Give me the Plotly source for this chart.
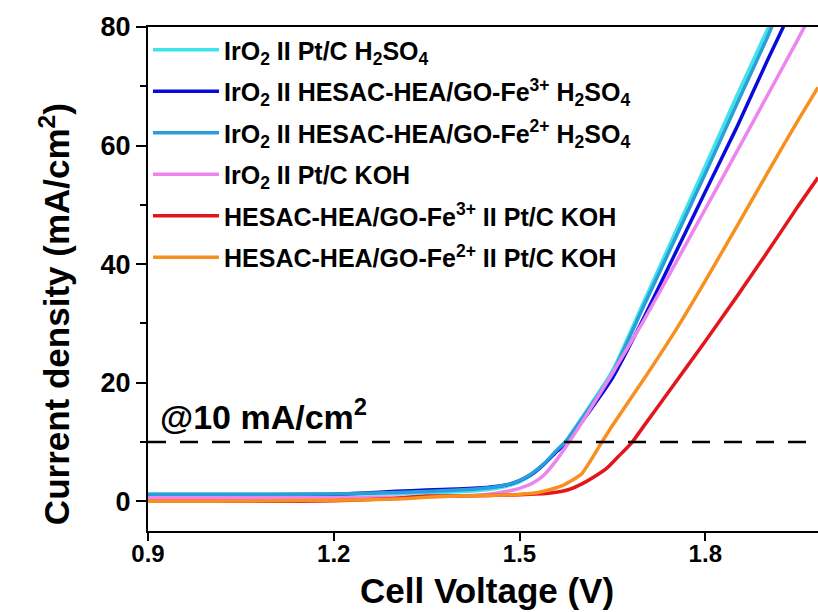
import plotly.graph_objects as go

# ---- data ----
names = [
    "IrO<sub>2</sub> II Pt/C H<sub>2</sub>SO<sub>4</sub>",
    "IrO<sub>2</sub> II HESAC-HEA/GO-Fe<sup>3+</sup> H<sub>2</sub>SO<sub>4</sub>",
    "IrO<sub>2</sub> II HESAC-HEA/GO-Fe<sup>2+</sup> H<sub>2</sub>SO<sub>4</sub>",
    "IrO<sub>2</sub> II Pt/C KOH",
    "HESAC-HEA/GO-Fe<sup>3+</sup> II Pt/C KOH",
    "HESAC-HEA/GO-Fe<sup>2+</sup> II Pt/C KOH",
]
colors = ["#3FE3EA", "#0A0ADC", "#2A9ED8", "#EE84EE", "#E3161C", "#F7901E"]

v_ptc_h2so4 = [0.90, 1.00, 1.10, 1.20, 1.30, 1.40, 1.45, 1.48, 1.50, 1.52, 1.54, 1.56, 1.575, 1.60, 1.65, 1.70, 1.75, 1.80, 1.85, 1.90, 1.91]
j_ptc_h2so4 = [1.2, 1.2, 1.2, 1.2, 1.3, 1.6, 2.0, 2.6, 3.3, 4.5, 6.3, 8.6, 10.2, 14.0, 22.0, 33.5, 45.0, 56.5, 68.2, 79.5, 82.0]

v_fe3_h2so4 = [0.90, 1.00, 1.10, 1.20, 1.25, 1.30, 1.35, 1.40, 1.45, 1.48, 1.50, 1.52, 1.54, 1.56, 1.577, 1.60, 1.65, 1.70, 1.75, 1.80, 1.85, 1.90, 1.935]
j_fe3_h2so4 = [1.1, 1.1, 1.1, 1.2, 1.4, 1.7, 1.9, 2.1, 2.4, 2.8, 3.5, 4.6, 6.3, 8.4, 10.0, 13.3, 20.8, 30.8, 41.5, 52.2, 62.9, 74.3, 82.0]

v_fe2_h2so4 = [0.90, 1.00, 1.10, 1.20, 1.30, 1.40, 1.45, 1.48, 1.50, 1.52, 1.54, 1.56, 1.575, 1.60, 1.65, 1.70, 1.75, 1.80, 1.85, 1.90, 1.915]
j_fe2_h2so4 = [1.2, 1.2, 1.2, 1.25, 1.5, 1.9, 2.3, 2.8, 3.5, 4.7, 6.4, 8.6, 10.1, 13.8, 21.6, 32.8, 44.0, 55.3, 66.8, 78.2, 82.0]

v_ptc_koh = [0.90, 1.00, 1.10, 1.20, 1.30, 1.40, 1.45, 1.48, 1.50, 1.52, 1.54, 1.56, 1.58, 1.60, 1.65, 1.70, 1.75, 1.80, 1.85, 1.90, 1.95, 1.97]
j_ptc_koh = [0.6, 0.6, 0.6, 0.6, 0.7, 0.9, 1.2, 1.7, 2.2, 3.0, 4.5, 7.0, 10.0, 13.2, 21.6, 30.4, 39.8, 49.3, 58.8, 68.4, 78.0, 82.0]

v_fe3_koh = [0.90, 1.00, 1.10, 1.20, 1.30, 1.35, 1.40, 1.45, 1.50, 1.55, 1.58, 1.60, 1.62, 1.641, 1.66, 1.682, 1.70, 1.75, 1.80, 1.85, 1.90, 1.95, 1.982]
j_fe3_koh = [0.0, 0.0, 0.0, 0.1, 0.5, 0.9, 0.9, 1.0, 1.1, 1.4, 2.0, 2.9, 4.1, 5.6, 7.6, 10.0, 12.6, 19.8, 27.0, 34.4, 42.0, 49.8, 54.6]

v_fe2_koh = [0.90, 1.00, 1.10, 1.20, 1.30, 1.35, 1.40, 1.45, 1.50, 1.53, 1.55, 1.57, 1.60, 1.633, 1.65, 1.70, 1.75, 1.80, 1.85, 1.90, 1.95, 1.982]
j_fe2_koh = [0.0, 0.0, 0.1, 0.2, 0.4, 0.7, 0.9, 1.0, 1.2, 1.5, 2.0, 2.7, 4.6, 10.0, 12.8, 20.5, 28.5, 37.2, 46.2, 55.3, 64.3, 69.8]

xs = [v_ptc_h2so4, v_fe3_h2so4, v_fe2_h2so4, v_ptc_koh, v_fe3_koh, v_fe2_koh]
ys = [j_ptc_h2so4, j_fe3_h2so4, j_fe2_h2so4, j_ptc_koh, j_fe3_koh, j_fe2_koh]

x_ticks = [0.9, 1.2, 1.5, 1.8]
y_ticks = [0, 20, 40, 60, 80]
y_minor = [10, 30, 50, 70]
ref_current = 10

FONT = "Arial, Liberation Sans, sans-serif"

fig = go.Figure()
for i, (x, y) in enumerate(zip(xs, ys)):
    fig.add_trace(go.Scatter(
        x=x, y=y, mode="lines", name=names[i], legendgroup=f"g{i}",
        line=dict(color=colors[i], width=3.5, shape="spline", smoothing=0.5),
    ))

fig.add_shape(type="line", xref="paper", x0=0, x1=1, yref="y", y0=ref_current, y1=ref_current,
              line=dict(color="black", width=2.5, dash="18px,14px"))

fig.add_annotation(x=0.916, y=14.6, xref="x", yref="y", text="@10 mA/cm<sup>2</sup>",
                   showarrow=False, xanchor="left", yanchor="middle",
                   font=dict(family=FONT, size=34, color="black", weight="bold"))

fig.add_annotation(x=-0.139, y=0.43, xref="paper", yref="paper",
                   text="Current density (mA/cm<sup>2</sup>)", textangle=-90,
                   showarrow=False, xanchor="center", yanchor="middle",
                   font=dict(family=FONT, size=35, color="black", weight="bold"))

fig.add_annotation(x=0.506, y=-0.119, xref="paper", yref="paper",
                   text="Cell Voltage (V)",
                   showarrow=False, xanchor="center", yanchor="middle",
                   font=dict(family=FONT, size=35, color="black", weight="bold"))

fig.update_layout(
    width=818, height=612,
    margin=dict(l=148, r=0, t=27, b=81),
    paper_bgcolor="white", plot_bgcolor="white",
    showlegend=True,
    legend=dict(x=0.0, y=1.0, xanchor="left", yanchor="top",
                bgcolor="rgba(0,0,0,0)", tracegroupgap=6, itemwidth=66,
                font=dict(family=FONT, size=25, color="black", weight="bold")),
    xaxis=dict(range=[0.9, 1.982], tickvals=x_ticks, ticktext=[f"{t:.1f}" for t in x_ticks],
               showgrid=False, zeroline=False, showline=True, linecolor="black", linewidth=2,
               mirror=True, ticks="outside", ticklen=8, tickwidth=2, tickcolor="black",
               ticklabelstandoff=-8,
               tickfont=dict(family=FONT, size=24, color="black", weight="bold")),
    yaxis=dict(range=[-5, 80], tickvals=y_ticks, showgrid=False, zeroline=False,
               showline=True, linecolor="black", linewidth=2, mirror=False,
               ticks="outside", ticklen=10, tickwidth=2, tickcolor="black",
               minor=dict(tickvals=y_minor, ticks="outside", ticklen=6, tickwidth=2, tickcolor="black"),
               tickfont=dict(family=FONT, size=27, color="black", weight="bold")),
)

fig.write_html("out.html")
